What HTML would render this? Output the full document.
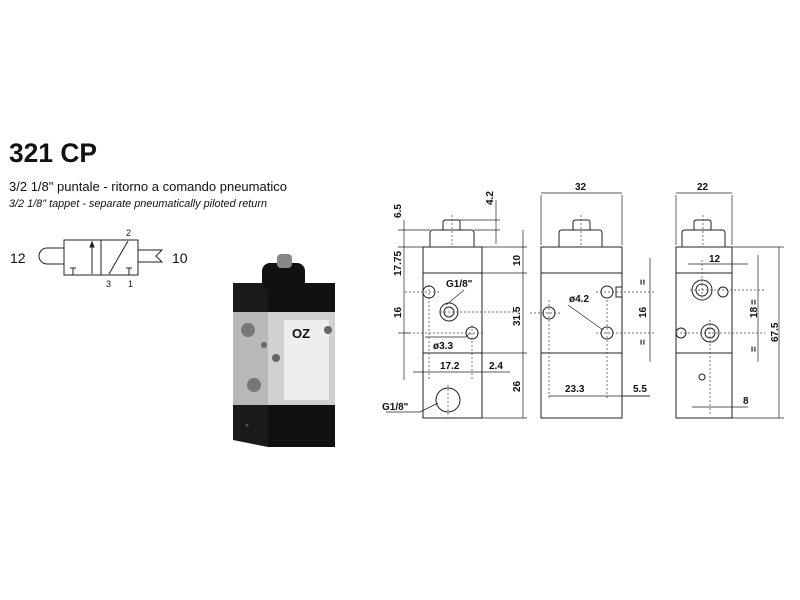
<!DOCTYPE html>
<html><head><style>
body{margin:0;background:#fff;width:800px;height:600px;overflow:hidden}
svg{display:block}
text{font-family:"Liberation Sans",sans-serif;fill:#111}
</style></head><body>
<svg width="800" height="600" viewBox="0 0 800 600">
<text x="9" y="162" font-size="27" font-weight="bold" style="font-family:'Liberation Sans Narrow','Liberation Sans',sans-serif" textLength="88" lengthAdjust="spacingAndGlyphs">321 CP</text>
<text x="9" y="191" font-size="13" textLength="278" lengthAdjust="spacingAndGlyphs">3/2 1/8" puntale - ritorno a comando pneumatico</text>
<text x="9" y="207" font-size="11" font-style="italic" textLength="258" lengthAdjust="spacingAndGlyphs">3/2 1/8" tappet - separate pneumatically piloted return</text>

<!-- symbol -->
<g stroke="#222" stroke-width="1" fill="none">
<rect x="64" y="240" width="74" height="35"/>
<line x1="101" y1="240" x2="101" y2="275"/>
<path d="M64 248 H47 A8 8 0 0 0 47 264 H64"/>
<path d="M138 250 H162 L156 256 L162 262 H138"/>
<line x1="92" y1="274" x2="92" y2="243"/><path d="M90 247 L92 242 L94 247Z" fill="#222"/>
<line x1="73" y1="268" x2="73" y2="275"/><line x1="70" y1="268" x2="76" y2="268"/>
<line x1="109" y1="274" x2="128" y2="241"/>
<line x1="129" y1="268" x2="129" y2="275"/><line x1="126" y1="268" x2="132" y2="268"/>
</g>
<text x="10" y="263" font-size="14">12</text>
<text x="172" y="263" font-size="14">10</text>
<text x="126" y="236" font-size="9">2</text>
<text x="106" y="287" font-size="9">3</text>
<text x="128" y="287" font-size="9">1</text>

<!-- photo -->
<polygon points="233,283 268,283 268,447 233,440" fill="#1a1a1a"/>
<rect x="268" y="283" width="67" height="164" fill="#111"/>
<polygon points="233,312 268,312 268,405 233,405" fill="#b8b8b8"/>
<rect x="268" y="312" width="67" height="93" fill="#d0d0d0"/>
<rect x="284" y="320" width="45" height="80" fill="#eee"/>
<text x="292" y="338" font-size="13" font-weight="bold">OZ</text>
<circle cx="248" cy="330" r="7" fill="#777"/><circle cx="254" cy="385" r="7" fill="#777"/>
<circle cx="276" cy="358" r="4" fill="#666"/><circle cx="264" cy="345" r="3" fill="#666"/><circle cx="328" cy="330" r="4" fill="#666"/>
<rect x="262" y="263" width="43" height="27" rx="8" fill="#111"/>
<rect x="277" y="254" width="15" height="14" rx="4" fill="#888"/>
<circle cx="247" cy="425" r="1.5" fill="#555"/>

<!-- technical drawing -->
<g stroke="#222" stroke-width="1" fill="none">
<rect x="423" y="247" width="59" height="171"/><line x1="423" y1="273" x2="482" y2="273"/><line x1="423" y1="353" x2="482" y2="353"/>
<path d="M430 247 V233 Q430 230 433 230 H471 Q474 230 474 233 V247"/><path d="M443 230 V222 Q443 220 446 220 H458 Q460 220 460 222 V230"/>
<rect x="541" y="247" width="81" height="171"/><line x1="541" y1="273" x2="622" y2="273"/><line x1="541" y1="353" x2="622" y2="353"/>
<path d="M559 247 V233 Q559 230 562 230 H599 Q602 230 602 233 V247"/><path d="M573 230 V222 Q573 220 576 220 H588 Q590 220 590 222 V230"/>
<rect x="676" y="247" width="56" height="171"/><line x1="676" y1="273" x2="732" y2="273"/><line x1="676" y1="353" x2="732" y2="353"/>
<path d="M682 247 V233 Q682 230 685 230 H722 Q725 230 725 233 V247"/><path d="M694 230 V222 Q694 220 697 220 H709 Q711 220 711 222 V230"/>
<circle cx="429" cy="292" r="6"/><circle cx="449" cy="312" r="9"/><circle cx="449" cy="312" r="5"/><circle cx="472" cy="333" r="6"/>
<circle cx="448" cy="400" r="12"/>
<circle cx="549" cy="313" r="6"/><circle cx="607" cy="292" r="6"/><circle cx="607" cy="333" r="6"/><rect x="616" y="287" width="6" height="10"/>
<circle cx="702" cy="290" r="10"/><circle cx="702" cy="290" r="6"/><circle cx="723" cy="292" r="5"/>
<circle cx="710" cy="333" r="9"/><circle cx="710" cy="333" r="5"/><circle cx="681" cy="333" r="5"/><circle cx="702" cy="377" r="3"/>
</g>
<g stroke="#444" stroke-width="0.7" stroke-dasharray="2,2" fill="none">
<line x1="452" y1="215" x2="452" y2="245"/><line x1="581" y1="215" x2="581" y2="245"/><line x1="703" y1="215" x2="703" y2="245"/>
<line x1="405" y1="292" x2="440" y2="292"/><line x1="440" y1="312" x2="520" y2="312"/><line x1="405" y1="333" x2="485" y2="333"/>
<line x1="530" y1="313" x2="560" y2="313"/><line x1="596" y1="292" x2="655" y2="292"/><line x1="596" y1="333" x2="655" y2="333"/>
<line x1="690" y1="290" x2="765" y2="290"/><line x1="676" y1="333" x2="765" y2="333"/>
<line x1="429" y1="285" x2="429" y2="380"/><line x1="472" y1="325" x2="472" y2="380"/><line x1="448" y1="385" x2="448" y2="418"/>
<line x1="549" y1="300" x2="549" y2="400"/><line x1="607" y1="300" x2="607" y2="400"/>
<line x1="710" y1="320" x2="710" y2="415"/><line x1="702" y1="260" x2="702" y2="300"/>
</g>
<g stroke="#222" stroke-width="0.7" fill="none">
<line x1="404" y1="220" x2="404" y2="380"/><line x1="398" y1="230" x2="430" y2="230"/><line x1="398" y1="247" x2="423" y2="247"/><line x1="398" y1="333" x2="410" y2="333"/>
<line x1="460" y1="220" x2="500" y2="220"/><line x1="474" y1="230" x2="500" y2="230"/><line x1="496" y1="200" x2="496" y2="244"/>
<line x1="523" y1="230" x2="523" y2="418"/><line x1="482" y1="247" x2="527" y2="247"/><line x1="482" y1="273" x2="527" y2="273"/><line x1="482" y1="353" x2="527" y2="353"/><line x1="482" y1="418" x2="527" y2="418"/>
<line x1="413" y1="372" x2="510" y2="372"/>
<line x1="541" y1="195" x2="541" y2="245"/><line x1="622" y1="195" x2="622" y2="245"/><line x1="541" y1="193" x2="622" y2="193"/>
<line x1="650" y1="258" x2="650" y2="362"/><line x1="549" y1="396" x2="650" y2="396"/><line x1="622" y1="396" x2="650" y2="396"/>
<line x1="676" y1="195" x2="676" y2="245"/><line x1="732" y1="195" x2="732" y2="245"/><line x1="676" y1="193" x2="732" y2="193"/>
<line x1="688" y1="264" x2="748" y2="264"/><line x1="758" y1="255" x2="758" y2="362"/><line x1="779" y1="247" x2="779" y2="418"/>
<line x1="732" y1="247" x2="784" y2="247"/><line x1="732" y1="418" x2="784" y2="418"/>
<line x1="692" y1="407" x2="748" y2="407"/>
<line x1="386" y1="412" x2="420" y2="412"/><line x1="420" y1="412" x2="438" y2="403"/>
<line x1="425" y1="337" x2="466" y2="337"/><line x1="466" y1="337" x2="470" y2="333"/>
<line x1="464" y1="290" x2="446" y2="305"/><line x1="568" y1="305" x2="603" y2="330"/>
</g>
<g font-size="10" font-weight="bold">
<text x="446" y="287">G1/8"</text><text x="433" y="349">ø3.3</text><text x="440" y="369">17.2</text><text x="489" y="369">2.4</text>
<text x="382" y="410">G1/8"</text><text x="569" y="302">ø4.2</text>
<text x="565" y="392">23.3</text><text x="633" y="392">5.5</text>
<text x="575" y="190">32</text><text x="697" y="190">22</text><text x="709" y="262">12</text><text x="743" y="404">8</text>
<g transform="rotate(-90)">
<text x="-218" y="401">6.5</text><text x="-205" y="493">4.2</text><text x="-276" y="401">17.75</text><text x="-318" y="401">16</text>
<text x="-266" y="520">10</text><text x="-326" y="520">31.5</text><text x="-392" y="520">26</text>
<text x="-318" y="646">16</text><text x="-318" y="757">18</text><text x="-342" y="778">67.5</text>
<text x="-285" y="646">=</text><text x="-345" y="646">=</text><text x="-305" y="757">=</text><text x="-352" y="757">=</text>
</g></g>
</svg>
</body></html>
